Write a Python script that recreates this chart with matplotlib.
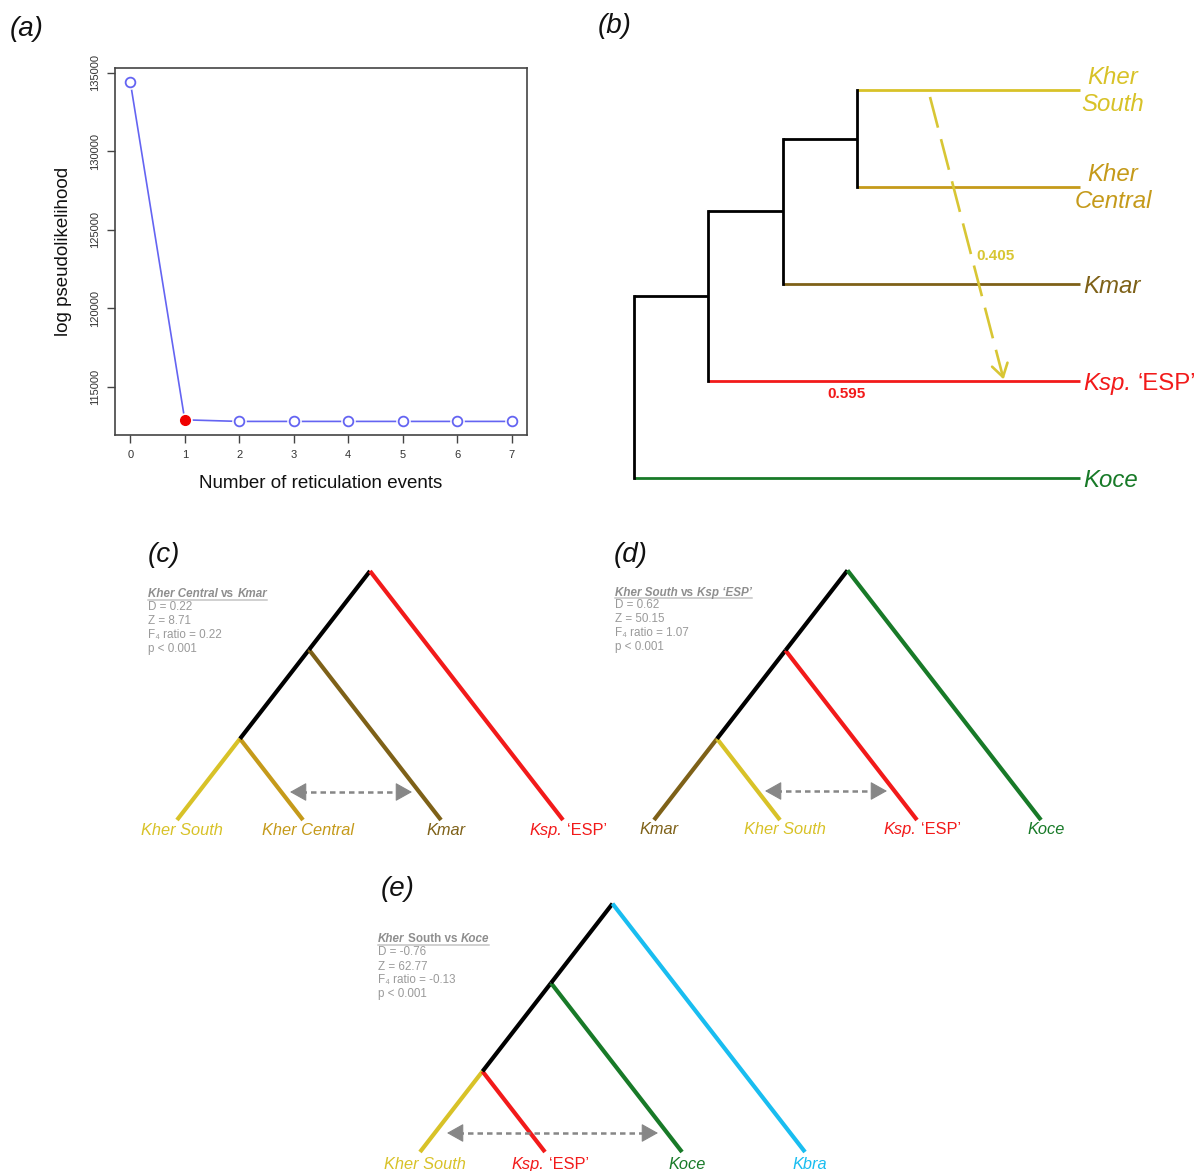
import matplotlib
matplotlib.use("Agg")
import matplotlib.pyplot as plt
import numpy as np

plt.rcParams['font.family'] = ['Liberation Sans', 'DejaVu Sans']

W, H = 1204, 1171

# ---------------- data ----------------
# (a) PhyloNetworks-style profile
n_reticulations = [0, 1, 2, 3, 4, 5, 6, 7]
log_pseudolik = [134430, 112900, 112800, 112800, 112800, 112800, 112800, 112800]
best_h = 1
yticks_a = [115000, 120000, 125000, 130000, 135000]

# colours of taxa
taxon_colors = {
    "Kher South": "#D8C228",
    "Kher Central": "#C59A1A",
    "Kmar": "#7E6118",
    "Ksp": "#F21A1A",
    "Koce": "#187A28",
    "Kbra": "#19BDF0",
}

# (b) network backbone tree and inheritance values
tree_b = (((("Kher South", "Kher Central"), "Kmar"), "Ksp"), "Koce")
gamma_minor = "0.405"
gamma_major = "0.595"

# (c)-(e) ABBA-BABA trees and statistics
tree_c = ((("Kher South", "Kher Central"), "Kmar"), "Ksp")
tree_d = ((("Kmar", "Kher South"), "Ksp"), "Koce")
tree_e = ((("Kher South", "Ksp"), "Koce"), "Kbra")
stats_c = ["D = 0.22", "Z = 8.71", "F\u2084 ratio = 0.22", "p < 0.001"]
stats_d = ["D = 0.62", "Z = 50.15", "F\u2084 ratio = 1.07", "p < 0.001"]
stats_e = ["D = -0.76", "Z = 62.77", "F\u2084 ratio = -0.13", "p < 0.001"]

# ---------------- figure ----------------
fig = plt.figure(figsize=(W / 100, H / 100), dpi=100)
ov = fig.add_axes([0, 0, 1, 1])
ov.set_xlim(0, W)
ov.set_ylim(H, 0)
ov.axis("off")
ov.patch.set_visible(False)
R = fig.canvas.get_renderer()

ITAL = dict(style="italic")
UP = dict(style="normal")


def text_width(s, **kw):
    t = ov.text(0, 0, s, **kw)
    w = t.get_window_extent(R).width
    t.remove()
    return w


def rich(x, y, parts, ha="center", fontsize=10, **kw):
    """parts: list of (string, styledict); y is the visual centre of capitals."""
    em = fontsize * 100 / 72.0
    yb = y + 0.36 * em
    pieces = []
    for s, st in parts:
        lead = len(s) - len(s.lstrip(" "))
        trail = len(s) - len(s.rstrip(" "))
        core = s.strip(" ")
        sw = text_width("a a", fontsize=fontsize, **kw, **st) - text_width("aa", fontsize=fontsize, **kw, **st)
        pieces.append((core, st, lead * sw, trail * sw))
    widths = []
    texts = []
    for core, st, l, tr in pieces:
        t = ov.text(0, yb, core, ha="left", va="baseline", fontsize=fontsize, **kw, **st)
        texts.append(t)
        widths.append((l, t.get_window_extent(R).width, tr))
    total = sum(a + b + c for a, b, c in widths)
    x0 = x - total / 2 if ha == "center" else x
    start = x0
    for t, (l, w, tr) in zip(texts, widths):
        x0 += l
        t.set_x(x0)
        x0 += w + tr
    return start, total, yb


def label_parts(name):
    if name == "Ksp":
        return [("Ksp.", ITAL), (" \u2018ESP\u2019", UP)]
    return [(name, ITAL)]


# ---------------- panel (a) ----------------
axA = fig.add_axes([115 / W, 1 - 435 / H, (527 - 115) / W, (435 - 68) / H])
blue = "#6464F2"
xr = np.array(n_reticulations)
yr = np.array(log_pseudolik)
axA.plot(xr, yr, color=blue, lw=1.2, zorder=2)
axA.plot(xr, yr, "o", ms=10.5, mfc="white", mec="none", zorder=3)
others = xr != best_h
axA.plot(xr[others], yr[others], "o", ms=7, mfc="white", mec=blue, mew=1.3, zorder=4)
axA.plot(xr[~others], yr[~others], "o", ms=7, color="#F00000", zorder=4)
pad_x = 0.04 * (xr.max() - xr.min())
pad_y = 0.04 * (yr.max() - yr.min())
axA.set_xlim(xr.min() - pad_x, xr.max() + pad_x)
axA.set_ylim(yr.min() - pad_y, yr.max() + pad_y)
axA.set_xticks(n_reticulations)
axA.set_yticks(yticks_a)
axA.set_yticklabels([str(v) for v in yticks_a], rotation=90, va="center")
axA.tick_params(direction="out", length=6, width=1, color="#444444",
                labelsize=8, labelcolor="#333333", pad=5)
for sp in axA.spines.values():
    sp.set_color("#444444")
    sp.set_linewidth(1.2)
axA.set_xlabel("Number of reticulation events", fontsize=13.5, color="#111111", va="center")
axA.xaxis.set_label_coords(0.5, (435 - 483) / (435 - 68))
axA.set_ylabel("log pseudolikelihood", fontsize=13.5, color="#111111", va="center")
axA.yaxis.set_label_coords((64 - 115) / (527 - 115), 0.5)

# ---------------- panel labels ----------------
for lab, x, y in [("(a)", 27, 29), ("(b)", 615, 26), ("(c)", 164, 555),
                  ("(d)", 631, 555), ("(e)", 398, 889)]:
    ov.text(x, y, lab, fontsize=20, style="italic", ha="center", va="center", color="#111111")

# ---------------- panel (b): rectangular tree ----------------
b_root_x, b_step_x, b_tip_x = 634, 74.3, 1080
b_top_y, b_step_y = 90, 97
lw_b = 2.0
rows = {}


def tips_of(t):
    return [t] if isinstance(t, str) else [x for c in t for x in tips_of(c)]


for i, name in enumerate(tips_of(tree_b)):
    rows[name] = b_top_y + i * b_step_y


def layout_rect(t, depth):
    if isinstance(t, str):
        return rows[t]
    x = b_root_x + depth * b_step_x
    ys = []
    for c in t:
        yc = layout_rect(c, depth + 1)
        ys.append(yc)
        if isinstance(c, str):
            ov.plot([x, b_tip_x], [yc, yc], color=taxon_colors[c], lw=lw_b,
                    solid_capstyle="butt", zorder=2)
        else:
            xc = b_root_x + (depth + 1) * b_step_x
            ov.plot([x, xc], [yc, yc], color="black", lw=lw_b, solid_capstyle="butt", zorder=2)
    ov.plot([x, x], [min(ys), max(ys)], color="black", lw=lw_b, solid_capstyle="projecting", zorder=3)
    return (min(ys) + max(ys)) / 2


layout_rect(tree_b, 0)

fs_b = 17.3
for name in tips_of(tree_b):
    y = rows[name]
    col = taxon_colors[name]
    if name in ("Kher South", "Kher Central"):
        ov.text(1113, y + 1, name.replace(" ", "\n"), ha="center", va="center",
                fontsize=fs_b, style="italic", color=col, linespacing=1.2, multialignment="center")
    else:
        rich(1083, y, label_parts(name), ha="left", fontsize=fs_b, color=col)

# reticulation arrow
p0 = np.array([930.0, 97.0])
p1 = np.array([1003.0, 377.0])
ov.plot([p0[0], p1[0]], [p0[1], p1[1]], color="#D8C634", lw=1.9,
        dashes=(12, 4.5), dash_capstyle="butt", zorder=4)
d = (p1 - p0) / np.linalg.norm(p1 - p0)
for ang in (np.radians(32), -np.radians(32)):
    rot = np.array([[np.cos(ang), -np.sin(ang)], [np.sin(ang), np.cos(ang)]])
    q = p1 - 15 * rot @ d
    ov.plot([q[0], p1[0]], [q[1], p1[1]], color="#D8C634", lw=1.9,
            solid_capstyle="round", zorder=4)
ov.text(976, 256, gamma_minor, color="#D8C634", fontsize=11, fontweight="bold",
        ha="left", va="center")
ov.text(846, 394, gamma_major, color="#F21A1A", fontsize=11, fontweight="bold",
        ha="center", va="center")

# ---------------- panels (c)-(e): slanted trees ----------------
slope = 1.29
lw_t = 3.0


def slanted(tree, tip_x, base_y, label_y, fs=11.8):
    def rec(t):
        if isinstance(t, str):
            return tip_x[t], base_y, tip_x[t], tip_x[t]
        res = [rec(c) for c in t]
        lo = min(r[2] for r in res)
        hi = max(r[3] for r in res)
        x = (lo + hi) / 2
        y = base_y - (hi - lo) / 2 * slope
        for c, (cx, cy, _, _) in zip(t, res):
            col = taxon_colors[c] if isinstance(c, str) else "black"
            ov.plot([x, cx], [y, cy], color=col, lw=lw_t, solid_capstyle="butt", zorder=2)
        return x, y, lo, hi

    rec(tree)
    for name, x in tip_x.items():
        rich(x + 5, label_y, label_parts(name), ha="center", fontsize=fs,
             color=taxon_colors[name])


def double_arrow(x0, x1, y):
    g = "#878787"
    hl = 11
    ov.plot([x0 + hl, x1 - hl], [y, y], color=g, lw=1.8, dashes=(2.2, 1.6), zorder=3)
    for xa, xb in ((x0 + hl + 1, x0), (x1 - hl - 1, x1)):
        ov.annotate("", xy=(xb, y), xytext=(xa, y),
                    arrowprops=dict(arrowstyle="-|>,head_length=0.75,head_width=0.42",
                                    mutation_scale=14, color=g, lw=0.8,
                                    shrinkA=0, shrinkB=0), zorder=3)


def stats_block(x, ys, title_parts, lines):
    g = "#9A9A9A"
    start, total, yb = rich(x, ys[0], title_parts, ha="left",
                            fontsize=8.4, fontweight="bold", color="#8E8E8E")
    ov.plot([start, start + total], [yb + 2.5, yb + 2.5], color="#C4C4C4", lw=1.1, zorder=1)
    for s, y in zip(lines, ys[1:]):
        ov.text(x, y, s, fontsize=8.4, color=g, ha="left", va="center")


# (c)
slanted(tree_c, {"Kher South": 177, "Kher Central": 303, "Kmar": 441, "Ksp": 563},
        820, 829)
double_arrow(290, 412, 792)
stats_block(148, [593, 607, 621.5, 635, 649.3],
            [("Kher Central", ITAL), (" vs ", UP), ("Kmar", ITAL)], stats_c)

# (d)
slanted(tree_d, {"Kmar": 654, "Kher South": 780, "Ksp": 917, "Koce": 1041},
        820, 828)
double_arrow(765, 887, 791)
stats_block(615, [591.5, 605.3, 619.3, 633, 647],
            [("Kher South", ITAL), (" vs ", UP), ("Ksp \u2018ESP\u2019", ITAL)], stats_d)

# (e)
slanted(tree_e, {"Kher South": 420, "Ksp": 545, "Koce": 682, "Kbra": 805},
        1152, 1163)
double_arrow(447, 658, 1133)
stats_block(378, [938.3, 952, 966.5, 980.3, 994.3],
            [("Kher", ITAL), (" South vs ", UP), ("Koce", ITAL)], stats_e)

fig.savefig("out.png", dpi=100)
